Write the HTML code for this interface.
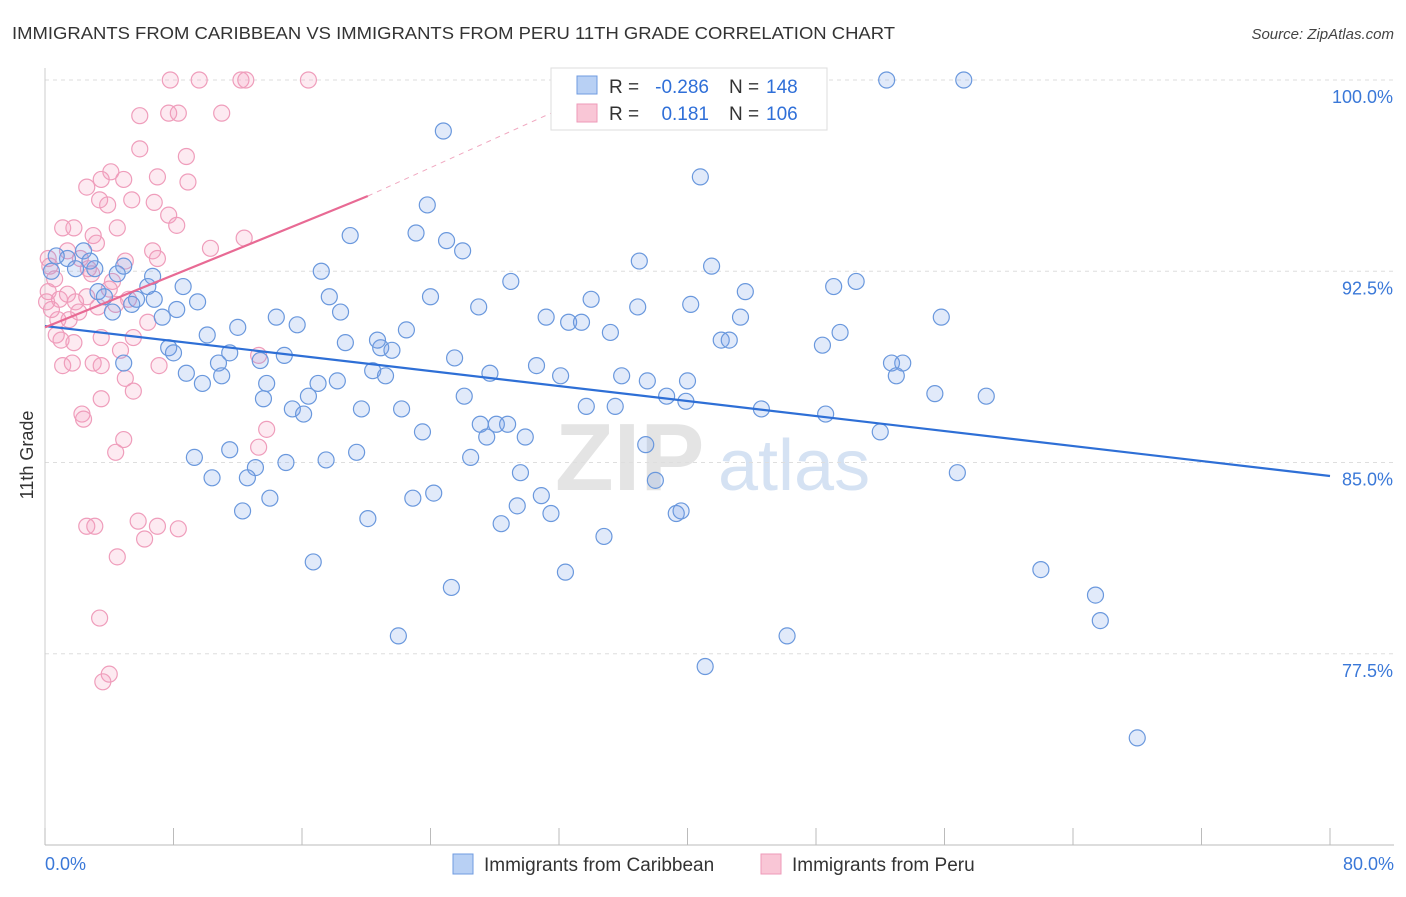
<!DOCTYPE html>
<html><head><meta charset="utf-8"><style>
body{margin:0;background:#fff;font-family:"Liberation Sans",sans-serif;}
svg text{font-family:"Liberation Sans",sans-serif;}
</style></head><body>
<svg id="chart" width="1406" height="892" viewBox="0 0 1406 892">
<text x="12" y="39" font-size="17.5" fill="#333" textLength="883" lengthAdjust="spacingAndGlyphs">IMMIGRANTS FROM CARIBBEAN VS IMMIGRANTS FROM PERU 11TH GRADE CORRELATION CHART</text>
<text x="1394" y="39" font-size="15" fill="#444" font-style="italic" text-anchor="end">Source: ZipAtlas.com</text>
<g>
<text x="555" y="490" font-size="96" font-family="Liberation Serif" fill="#e4e4e4" font-weight="bold">ZIP</text>
<text x="718" y="490" font-size="72" fill="#d5e2f3">atlas</text>
</g>
<g id="grid"></g>
<g id="axes"></g>
<g id="pink"></g>
<g id="blue"></g>
<g id="trends"></g>
<g>
<rect x="551" y="68" width="276" height="62" fill="#fff" stroke="#ddd"/>
<rect x="577" y="76" width="20" height="18" fill="#b8d0f4" stroke="#6f9be0"/>
<rect x="577" y="104" width="20" height="18" fill="#f9c6d6" stroke="#ee9ab8"/>
<text x="609" y="93" font-size="19" fill="#333">R =</text>
<text x="709" y="93" font-size="19" fill="#2f6fd8" text-anchor="end">-0.286</text>
<text x="729" y="93" font-size="19" fill="#333">N =</text>
<text x="766" y="93" font-size="19" fill="#2f6fd8">148</text>
<text x="609" y="120" font-size="19" fill="#333">R =</text>
<text x="709" y="120" font-size="19" fill="#2f6fd8" text-anchor="end">0.181</text>
<text x="729" y="120" font-size="19" fill="#333">N =</text>
<text x="766" y="120" font-size="19" fill="#2f6fd8">106</text>
</g>
<g>
<rect x="453" y="854" width="20" height="20" fill="#b8d0f4" stroke="#6f9be0"/>
<text x="484" y="871" font-size="19" fill="#333">Immigrants from Caribbean</text>
<rect x="761" y="854" width="20" height="20" fill="#f9c6d6" stroke="#ee9ab8"/>
<text x="792" y="871" font-size="19" fill="#333">Immigrants from Peru</text>
</g>
<text transform="translate(33,455) rotate(-90)" font-size="18" fill="#333" text-anchor="middle">11th Grade</text>
</svg>
<script>
const yTicks=[100,92.5,85,77.5];
const yTickLabels=["100.0%","92.5%","85.0%","77.5%"];
const xTickLabels=["0.0%","80.0%"];
const blueX=[52.4,57.2,24.8,40.8,23.8,23.1,19.0,25.0,26.0,17.2,29.0,37.0,41.5,50.5,49.1,43.6,34.0,36.9,40.2,27.0,24.0,17.7,18.4,14.4,15.7,12.0,10.1,8.6,9.5,6.8,8.2,7.3,4.9,6.7,6.4,5.7,4.2,5.4,3.3,3.1,2.4,1.4,0.7,0.4,1.9,2.8,3.7,4.5,31.2,32.6,33.4,35.2,42.1,42.6,43.3,48.4,49.5,55.8,53.4,55.4,58.6,52.7,53.0,48.6,44.6,39.9,38.7,40.0,35.9,37.5,32.1,30.6,27.7,25.5,22.5,20.9,21.6,20.7,18.7,20.4,21.2,14.9,13.4,11.5,10.8,11.0,9.8,8.8,7.7,8.0,4.9,13.8,13.6,15.4,16.1,16.4,17.0,18.2,19.7,22.2,26.1,27.1,27.5,28.1,28.8,29.9,33.7,35.5,37.4,38.0,23.5,26.5,29.6,30.9,31.5,29.4,28.4,24.2,22.9,19.4,17.5,15.0,13.1,12.6,11.5,10.4,9.3,12.3,14.0,20.1,16.7,25.3,22.0,32.4,34.8,39.3,39.6,52.0,56.8,62.0,65.4,65.7,46.2,41.1,68.0];
const blueY=[100,100,98.0,96.2,95.1,94.0,93.9,93.7,93.3,92.5,92.1,92.9,92.7,92.1,91.9,91.7,91.4,91.1,91.2,91.1,91.5,91.5,90.9,90.7,90.4,90.3,90.0,91.9,91.3,91.4,91.0,90.7,92.7,92.3,91.9,91.4,90.9,91.2,91.7,92.6,93.3,93.0,93.1,92.5,92.6,92.9,91.5,92.4,90.7,90.5,90.5,90.1,89.8,89.8,90.7,89.6,90.1,90.7,88.9,87.7,87.6,88.9,88.4,86.9,87.1,87.4,87.6,88.2,88.4,88.2,88.4,88.8,88.5,89.1,90.2,89.5,89.4,89.8,89.7,88.6,88.4,89.2,89.0,89.3,88.9,88.4,88.1,88.5,89.5,89.3,88.9,88.1,87.5,87.1,86.9,87.6,88.1,88.2,87.1,87.1,87.6,86.5,86.0,86.5,86.5,86.0,87.2,87.2,85.7,84.3,86.2,85.2,84.6,83.7,83.0,83.3,82.6,83.8,83.6,85.4,85.1,85.0,84.8,84.4,85.5,84.4,85.2,83.1,83.6,82.8,81.1,80.1,78.2,80.7,82.1,83.0,83.1,86.2,84.6,80.8,79.8,78.8,78.2,77.0,74.2];
const pinkX=[7.8,9.6,12.2,12.5,16.4,5.9,7.7,8.3,11.0,5.9,8.8,4.1,7.0,8.9,2.6,3.5,4.9,3.4,3.9,5.4,6.8,7.7,8.2,10.3,12.4,1.1,1.8,3.0,4.5,3.2,1.4,6.7,7.0,5.0,4.2,2.9,2.7,2.2,0.2,0.3,0.6,0.2,0.9,1.4,1.9,2.6,3.3,2.1,0.8,0.4,1.5,0.1,4.0,5.2,6.4,5.5,1.0,1.8,0.7,3.5,4.7,1.1,1.7,3.0,3.5,5.0,5.5,7.1,13.3,3.5,2.3,2.4,4.9,4.4,13.8,13.3,5.8,7.0,8.3,2.6,3.1,6.2,4.5,3.4,4.0,3.6,4.4];
const pinkY=[100,100,100,100,100,98.6,98.7,98.7,98.7,97.3,97.0,96.4,96.2,96.0,95.8,96.1,96.1,95.3,95.1,95.3,95.2,94.7,94.3,93.4,93.8,94.2,94.2,93.9,94.2,93.6,93.3,93.3,93.0,92.9,92.1,92.4,92.6,93.0,93.0,92.7,92.2,91.7,91.4,91.6,91.3,91.5,91.1,90.9,90.6,91.0,90.6,91.3,91.8,91.4,90.5,89.9,89.8,89.7,90.0,89.9,89.4,88.8,88.9,88.9,88.8,88.3,87.8,88.8,89.2,87.5,86.9,86.7,85.9,85.4,86.3,85.6,82.7,82.5,82.4,82.5,82.5,82.0,81.3,78.9,76.7,76.4,91.2];
const blueTrend=[[0,90.35],[80,84.47]];
const pinkTrendSolid=[[0,90.3],[20.1,95.45]];
const pinkTrendDash=[[20.1,95.45],[31.5,98.7]];

const NS="http://www.w3.org/2000/svg";
const X0=45,X1=1330,YTOP=80,PPU=25.5;
const sx=v=>X0+(X1-X0)*v/80;
const sy=v=>YTOP+(100-v)*PPU;
function mk(tag,attrs,parent){const e=document.createElementNS(NS,tag);for(const k in attrs)e.setAttribute(k,attrs[k]);parent.appendChild(e);return e;}
const grid=document.getElementById('grid'),axes=document.getElementById('axes');
yTicks.forEach((t,i)=>{
  const l=mk('line',{x1:X0,x2:1394,y1:sy(t),y2:sy(t),stroke:'#dedede','stroke-dasharray':'4,4'},grid);
  
  
  const tx=mk('text',{x:1393,y:sy(t)+23,'font-size':18,fill:'#3a78d8','text-anchor':'end'},axes);
  tx.textContent=yTickLabels[i];
  
  
});
const ax=mk('line',{x1:X0,x2:1394,y1:845,y2:845,stroke:'#bbb'},axes);


const ay=mk('line',{x1:X0,x2:X0,y1:68,y2:845,stroke:'#ccc'},axes);


for(let i=0;i<=10;i++){
  const t=mk('line',{x1:sx(i*8),x2:sx(i*8),y1:828,y2:845,stroke:'#bbb'},axes);
  
  
}
[[0,'start',45],[80,'end',1394]].forEach((d,i)=>{
  const t=mk('text',{x:d[2],y:870,'font-size':18,fill:'#3a78d8','text-anchor':d[1]},axes);
  t.textContent=xTickLabels[i];
  
  
});
function pts(xs,ys,g,fill,stroke,name){
  xs.forEach((x,i)=>{
    const c=mk('circle',{cx:sx(x),cy:sy(ys[i]),r:8,fill:fill,stroke:stroke,'stroke-width':1.2},g);
    
    
  });
}
pts(pinkX,pinkY,document.getElementById('pink'),'rgba(244,160,190,0.22)','#ef9dbb','peru-point');
pts(blueX,blueY,document.getElementById('blue'),'rgba(120,160,230,0.22)','#6a98dd','caribbean-point');
const tr=document.getElementById('trends');
function ln(p,stroke,w,dash,name){
  const l=mk('line',{x1:sx(p[0][0]),y1:sy(p[0][1]),x2:sx(p[1][0]),y2:sy(p[1][1]),stroke:stroke,'stroke-width':w},tr);
  if(dash)l.setAttribute('stroke-dasharray',dash);
  
  
}
ln(blueTrend,'#2e6fd6',2.2,null,'caribbean-trend-line');
ln(pinkTrendSolid,'#e86a94',2.2,null,'peru-trend-line');
ln(pinkTrendDash,'#f0a8c0',1,'5,5','peru-trend-extension');
</script>
</body></html>
